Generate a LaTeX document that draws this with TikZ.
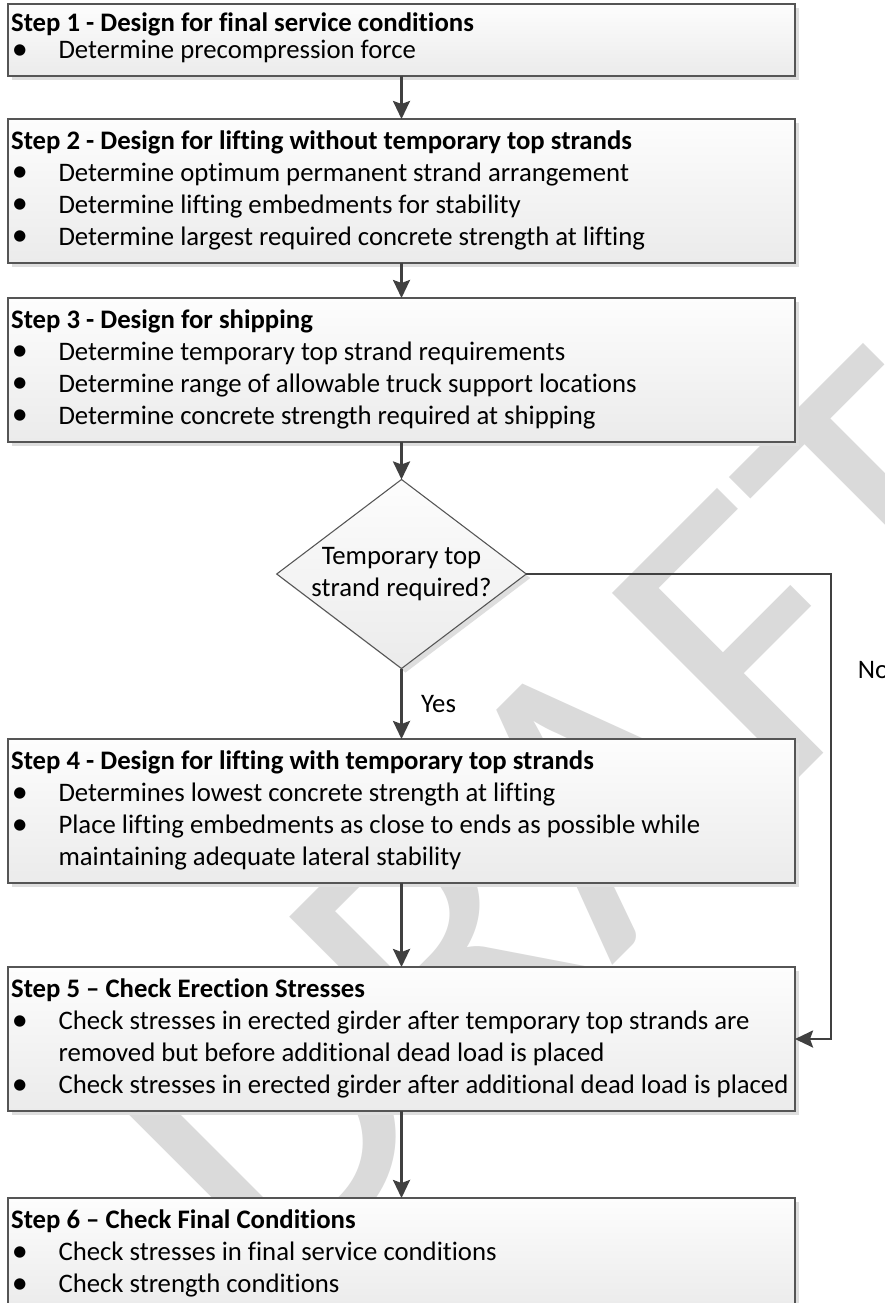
\documentclass[tikz,border=0pt]{standalone}
\usepackage{fontspec}
\setmainfont[Ligatures=NoCommon]{Carlito}
\newfontfamily\wmfont{Carlito}
\usetikzlibrary{arrows.meta,shapes.geometric,shadows}
\definecolor{boxline}{RGB}{85,85,85}
\definecolor{connc}{RGB}{64,64,64}
\definecolor{shadec}{RGB}{222,222,222}
\definecolor{wmc}{RGB}{218,218,218}
\definecolor{topc}{RGB}{253,253,253}
\definecolor{botc}{RGB}{235,235,235}
\newcommand{\bul}{\makebox[19.9pt][l]{\hspace{0.3pt}\raisebox{-0.25pt}{\scalebox{1.2}{\textbullet}}}}
\newcommand{\cont}{\hspace*{19.9pt}}
\newcommand{\natsp}{\spaceskip=0pt\xspaceskip=0pt\relax}
\tikzset{
  stepbox/.style={rectangle, draw=boxline, line width=0.55pt,
    top color=topc, bottom color=botc,
    general shadow={fill=shadec, shadow xshift=1.68pt, shadow yshift=-1.68pt},
    inner xsep=1.3pt, inner ysep=0pt, outer sep=0pt,
    minimum width=787*0.42pt, text width=327.9pt, align=left,
    font=\fontsize{11.23}{13.44}\selectfont, anchor=north west},
  decbox/.style={diamond, draw=boxline, line width=0.45pt,
    top color=topc, bottom color=botc,
    general shadow={fill=shadec, shadow xshift=1.68pt, shadow yshift=-1.68pt},
    inner sep=0pt, outer sep=0pt, aspect=1.32,
    minimum width=249*0.42pt, minimum height=188*0.42pt,
    align=center, font=\fontsize{11.23}{13.1}\selectfont},
  connarrow/.style={draw=connc, line width=0.85pt,
    -{Stealth[length=7.6pt,width=7.2pt,inset=1.3pt]}},
  lbl/.style={font=\fontsize{11.23}{13.44}\selectfont, inner sep=0pt},
  wmark/.style={anchor=base west, rotate=45, text=wmc, inner sep=0pt,
    font=\wmfont\fontsize{171.8}{175}\selectfont}
}
\begin{document}
\begin{tikzpicture}[x=0.42pt, y=-0.42pt]
\useasboundingbox (0,0) rectangle (884,1303);
\clip (0,0) rectangle (884,1303);
\fill[white] (0,0) rectangle (884,1303);

% watermark
\node[wmark] (wm) at (276,1301.5) {DRAFT};

% boxes
\node[stepbox, minimum height=72*0.42pt, font=\fontsize{11.23}{11.34}\selectfont] (b1) at (8,4) {\natsp
\begin{tabular}{@{}l@{}}
\textbf{Step 1 - Design for final service conditions}\\
\bul Determine precompression force
\end{tabular}};

\node[stepbox, minimum height=144*0.42pt] (b2) at (8,119) {\natsp
\begin{tabular}{@{}l@{}}
\textbf{Step 2 - Design for lifting without temporary top strands}\\
\bul Determine optimum permanent strand arrangement\\
\bul Determine lifting embedments for stability\\
\bul Determine largest required concrete strength at lifting
\end{tabular}};

\node[stepbox, minimum height=144*0.42pt] (b3) at (8,298) {\natsp
\begin{tabular}{@{}l@{}}
\textbf{Step 3 - Design for shipping}\\
\bul Determine temporary top strand requirements\\
\bul Determine range of allowable truck support locations\\
\bul Determine concrete strength required at shipping
\end{tabular}};

\node[decbox] (dec) at (401.5,574) {\natsp Temporary top\\\natsp strand required?};

\node[stepbox, minimum height=144*0.42pt] (b4) at (8,739) {\natsp
\begin{tabular}{@{}l@{}}
\textbf{Step 4 - Design for lifting with temporary top strands}\\
\bul Determines lowest concrete strength at lifting\\
\bul Place lifting embedments as close to ends as possible while\\
\cont maintaining adequate lateral stability
\end{tabular}};

\node[stepbox, minimum height=144*0.42pt] (b5) at (8,967) {\natsp
\begin{tabular}{@{}l@{}}
\textbf{Step 5 – Check Erection Stresses}\\
\bul Check stresses in erected girder after temporary top strands are\\
\cont removed but before additional dead load is placed\\
\bul Check stresses in erected girder after additional dead load is placed
\end{tabular}};

\node[stepbox, minimum height=112*0.42pt] (b6) at (8,1198) {\natsp
\begin{tabular}{@{}l@{}}
\textbf{Step 6 – Check Final Conditions}\\
\bul Check stresses in final service conditions\\
\bul Check strength conditions
\end{tabular}};

% connectors
\draw[connarrow] (b1.south) -- (b2.north);
\draw[connarrow] (b2.south) -- (b3.north);
\draw[connarrow] (b3.south) -- (dec.north);
\draw[connarrow] (dec.south) -- node[lbl, anchor=west, xshift=7.8pt] (yes) {Yes} (b4.north);
\draw[connarrow] (b4.south) -- (b5.north);
\draw[connarrow] (b5.south) -- (b6.north);
\coordinate (nx) at (831,573);
\draw[connarrow] (dec.east) -- (dec.east -| nx) |- (b5.east);
\node[lbl, anchor=base west, fill=white, inner sep=0.6pt] (no) at (856,678) {No};
\end{tikzpicture}
\end{document}
